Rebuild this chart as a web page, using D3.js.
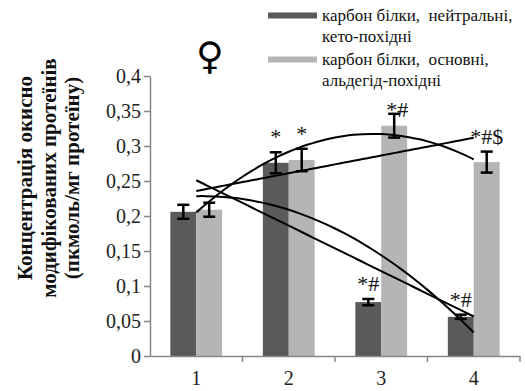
<!DOCTYPE html>
<html>
<head>
<meta charset="utf-8">
<script src="https://cdn.jsdelivr.net/npm/d3@7"></script>
</head>
<body style="margin:0;background:#fff">
<div id="container"></div>
<script>
const categories = ["1", "2", "3", "4"];
const seriesNames = [
  ["карбон білки,  нейтральні,", "кето-похідні"],
  ["карбон білки,  основні,", "альдегід-похідні"],
];
const ketoValues = [0.206, 0.276, 0.077, 0.056];
const ketoErrors = [0.010, 0.015, 0.0045, 0.003];
const aldehydeValues = [0.209, 0.280, 0.329, 0.277];
const aldehydeErrors = [0.010, 0.016, 0.017, 0.015];
const ketoMarks = ["", "*", "*#", "*#"];
const aldehydeMarks = ["", "*", "*#", "*#$"];
const yTicks = [0, 0.05, 0.1, 0.15, 0.2, 0.25, 0.3, 0.35, 0.4];
const yTitle = ["Концентрація окисно", "модифікованих протеїнів", "(пкмоль/мг протеїну)"];

const SERIF = "'Liberation Serif'";

main();

function main() {
  const width = 525;
  const height = 391;
  const colors = ["#5a5a5a", "#b5b5b5"];
  const axisColor = "#878787";

  const svg = d3
    .select("#container")
    .append("svg")
    .attr("width", width)
    .attr("height", height);

  const scaleX = d3
    .scaleBand()
    .domain(categories)
    .range([150, 520])
    .paddingInner(0.44)
    .paddingOuter(0.22);
  const scaleSeries = d3
    .scaleBand()
    .domain([0, 1])
    .range([0, scaleX.bandwidth()]);
  const scaleY = d3.scaleLinear().domain([0, 0.4]).range([356, 76]);

  const series = [
    { values: ketoValues, errors: ketoErrors, marks: ketoMarks },
    { values: aldehydeValues, errors: aldehydeErrors, marks: aldehydeMarks },
  ];

  // bars
  series.forEach((s, si) => {
    svg
      .append("g")
      .selectAll("rect")
      .data(s.values)
      .join("rect")
      .attr("x", (d, i) => scaleX(categories[i]) + scaleSeries(si))
      .attr("y", (d) => scaleY(d))
      .attr("width", scaleSeries.bandwidth())
      .attr("height", (d) => scaleY(0) - scaleY(d))
      .attr("fill", colors[si]);
  });

  // axes
  const axisY = svg
    .append("g")
    .attr("transform", "translate(150,0)")
    .call(
      d3
        .axisLeft(scaleY)
        .tickValues(yTicks)
        .tickSize(6)
        .tickSizeOuter(0)
        .tickFormat((d) => String(d).replace(".", ","))
    );
  axisY.select(".domain").attr("stroke", axisColor).attr("stroke-width", 1.5);
  axisY.selectAll(".tick line").attr("stroke", axisColor).attr("stroke-width", 1.5);
  axisY
    .selectAll(".tick text")
    .style("font-family", SERIF)
    .style("font-size", "20px")
    .attr("fill", "#222")
    .attr("x", -9);

  const axisX = svg
    .append("g")
    .attr("transform", "translate(0,356)")
    .call(d3.axisBottom(scaleX).tickSize(0).tickSizeOuter(0));
  axisX.select(".domain").attr("stroke", axisColor).attr("stroke-width", 1.5);
  axisX
    .selectAll(".tick text")
    .style("font-family", SERIF)
    .style("font-size", "20px")
    .attr("fill", "#222")
    .attr("y", 15);
  const step = scaleX.step();
  const boundaries = d3.range(1, categories.length + 1).map((i) => 150 + i * step);
  axisX
    .selectAll("line.sep")
    .data(boundaries)
    .join("line")
    .classed("sep", true)
    .attr("x1", (d) => d)
    .attr("x2", (d) => d)
    .attr("y1", 0)
    .attr("y2", 6)
    .attr("stroke", axisColor)
    .attr("stroke-width", 1.5);

  // trend lines: linear and 2nd order polynomial per series
  const centerX = (i) => scaleX(categories[i]) + scaleX.bandwidth() / 2;
  const scaleIdx = d3.scaleLinear().domain([1, 4]).range([centerX(0), centerX(3)]);
  const line = d3
    .line()
    .x((d) => scaleIdx(d[0]))
    .y((d) => scaleY(d[1]))
    .curve(d3.curveBasis);
  const xs = categories.map((c, i) => i + 1);
  const samples = d3.range(0, 31).map((k) => 1 + (3 * k) / 30);
  series.forEach((s) => {
    [1, 2].forEach((order) => {
      const coef = polyFit(xs, s.values, order);
      const pts = samples.map((x) => [x, coef.reduce((a, c, p) => a + c * Math.pow(x, p), 0)]);
      svg
        .append("path")
        .attr("d", line(pts))
        .attr("fill", "none")
        .attr("stroke", "#000")
        .attr("stroke-width", 2);
    });
  });

  // error bars and significance marks
  const legendBottom = 117;
  series.forEach((s, si) => {
    const g = svg.append("g");
    s.values.forEach((v, i) => {
      const cx = scaleX(categories[i]) + scaleSeries(si) + scaleSeries.bandwidth() / 2;
      const top = scaleY(v + s.errors[i]);
      const bottom = scaleY(v - s.errors[i]);
      g.append("line")
        .attr("x1", cx).attr("x2", cx)
        .attr("y1", top).attr("y2", bottom)
        .attr("stroke", "#000").attr("stroke-width", 2.5);
      [top, bottom].forEach((y) => {
        g.append("line")
          .attr("x1", cx - 6).attr("x2", cx + 6)
          .attr("y1", y).attr("y2", y)
          .attr("stroke", "#000").attr("stroke-width", 2.5);
      });
      if (s.marks[i]) {
        // keep marks below the legend block
        g.append("text")
          .attr("x", cx + (top - 8 < legendBottom ? 3 : 0))
          .attr("y", Math.max(top - 8, legendBottom))
          .attr("text-anchor", "middle")
          .style("font-family", SERIF)
          .style("font-size", "22px")
          .attr("fill", "#111")
          .text(s.marks[i]);
      }
    });
  });

  // y title
  const titleG = svg.append("g").attr("transform", "translate(0,178) rotate(-90)");
  yTitle.forEach((t, i) => {
    titleG
      .append("text")
      .attr("x", 0)
      .attr("y", 25 + i * 23.5)
      .attr("dy", "0.35em")
      .attr("text-anchor", "middle")
      .style("font-family", SERIF)
      .style("font-weight", "bold")
      .style("font-size", "21px")
      .attr("fill", "#111")
      .text(t);
  });

  // female symbol
  svg
    .append("text")
    .attr("x", 210)
    .attr("y", 69)
    .attr("text-anchor", "middle")
    .style("font-family", "'DejaVu Sans'")
    .style("font-weight", "bold")
    .style("font-size", "38px")
    .attr("fill", "#000")
    .text("♀");

  // legend
  const legend = svg.append("g");
  seriesNames.forEach((lines, si) => {
    const y0 = 15.5 + si * 44;
    legend
      .append("rect")
      .attr("x", 268)
      .attr("y", y0 - 3)
      .attr("width", 49)
      .attr("height", 6)
      .attr("fill", colors[si]);
    lines.forEach((t, li) => {
      legend
        .append("text")
        .attr("x", 322)
        .attr("y", y0 + li * 21)
        .attr("dy", "0.35em")
        .style("font-family", SERIF)
        .style("font-size", "17px")
        .style("white-space", "pre")
        .attr("fill", "#111")
        .text(t);
    });
  });
}

function polyFit(xs, ys, order) {
  const n = order + 1;
  const A = d3.range(n).map((r) => d3.range(n).map((c) => d3.sum(xs, (x) => Math.pow(x, r + c))));
  const b = d3.range(n).map((r) => d3.sum(xs, (x, i) => ys[i] * Math.pow(x, r)));
  for (let col = 0; col < n; col++) {
    for (let row = col + 1; row < n; row++) {
      const f = A[row][col] / A[col][col];
      for (let k = col; k < n; k++) A[row][k] -= f * A[col][k];
      b[row] -= f * b[col];
    }
  }
  const coef = new Array(n).fill(0);
  for (let row = n - 1; row >= 0; row--) {
    let s = b[row];
    for (let k = row + 1; k < n; k++) s -= A[row][k] * coef[k];
    coef[row] = s / A[row][row];
  }
  return coef;
}
</script>
</body>
</html>
